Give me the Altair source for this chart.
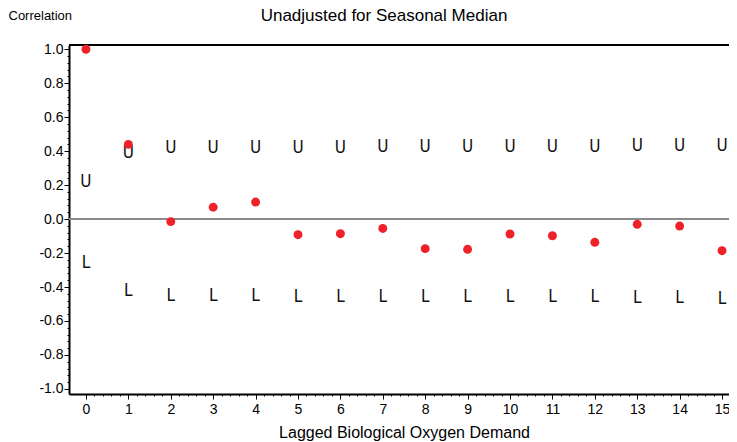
import altair as alt
import pandas as pd

# ---- data ----
lags = list(range(16))
acf = [1.00, 0.44, -0.015, 0.07, 0.10, -0.092, -0.086, -0.055, -0.174, -0.178,
       -0.088, -0.098, -0.137, -0.031, -0.041, -0.186]
upper = [0.218, 0.389, 0.416, 0.418, 0.418, 0.419, 0.420, 0.422, 0.423, 0.424,
         0.425, 0.426, 0.427, 0.428, 0.429, 0.430]
lower = [-0.258, -0.425, -0.455, -0.455, -0.455, -0.456, -0.456, -0.456, -0.457,
         -0.458, -0.458, -0.459, -0.460, -0.462, -0.462, -0.468]
zero_line = [0.0] * 16

x_tick_values = [round(i * 0.2, 1) for i in range(0, 77)]
y_tick_values = [round(-1.0 + i * 0.04, 2) for i in range(51)]

title_text = "Unadjusted for Seasonal Median"
x_title = "Lagged Biological Oxygen Demand"
y_title = "Correlation"

df = pd.DataFrame({"lag": lags, "acf": acf, "upper": upper, "lower": lower,
                   "zero": zero_line})

W, H = 670, 349
FONT = "Liberation Sans"
NARROW = "Liberation Sans Narrow, DejaVu Sans Condensed, Liberation Sans"
x_scale = alt.Scale(domain=[-0.4, 15.4], nice=False, zero=False)
y_scale = alt.Scale(domain=[-1.03, 1.025], nice=False, zero=False)

major_x = "abs(datum.value - round(datum.value)) < 0.001"
major_y = "abs(datum.value * 5 - round(datum.value * 5)) < 0.001"

x_axis = alt.Axis(
    values=x_tick_values,
    labelExpr=f"{major_x} ? format(datum.value, 'd') : ''",
    tickSize={"condition": {"test": major_x, "value": 5}, "value": 2},
    labelOverlap=False, labelBound=False, labelFlush=False,
    labelFont=FONT, labelFontSize=14, labelColor="black", labelPadding=3,
    domainColor="black", domainWidth=2, tickColor="black", tickWidth=1,
    grid=False, title=x_title, titleFont=FONT, titleFontSize=16,
    titleFontWeight="normal", titleColor="black",
    titleBaseline="alphabetic", titleAlign="center", titleX=335, titleY=43,
)
y_axis = alt.Axis(
    values=y_tick_values,
    labelExpr=f"{major_y} ? replace(format(datum.value, '.1f'), '\u2212', '-') : ''",
    tickSize={"condition": {"test": major_y, "value": 5}, "value": 2},
    labelOverlap=False, labelBound=False, labelFlush=False,
    labelFont=FONT, labelFontSize=14, labelColor="black", labelPadding=1,
    domainColor="black", domainWidth=2, tickColor="black", tickWidth=1,
    grid=False, title=y_title, titleFont=FONT, titleFontSize=13,
    titleFontWeight="normal", titleColor="black", titleAngle=0,
    titleAlign="left", titleBaseline="alphabetic", titleX=-61, titleY=-26,
)

X = alt.X("lag:Q", scale=x_scale, axis=x_axis)


def Y(field):
    return alt.Y(f"{field}:Q", scale=y_scale, axis=y_axis)


base = alt.Chart(df)

zero = base.mark_rule(color="#8a8a8a", strokeWidth=1.5).encode(y=Y("zero"))
top_frame = alt.Chart(alt.Data(values=[{"t": 1}])).mark_rule(
    color="black", strokeWidth=2).encode(
    y=alt.value(0), x=alt.value(0), x2=alt.value(W))

u_marks = base.mark_text(text="U", font=NARROW, fontSize=17,
                         baseline="middle", color="#111").encode(x=X, y=Y("upper"))
l_marks = base.mark_text(text="L", font=NARROW, fontSize=17,
                         baseline="middle", color="#111").encode(x=X, y=Y("lower"))
pts = base.mark_circle(size=80, color="#EE2228", opacity=1).encode(x=X, y=Y("acf"))

chart = alt.layer(zero, top_frame, u_marks, l_marks, pts).properties(
    width=W, height=H,
    title=alt.TitleParams(title_text, font=FONT, fontSize=17, fontWeight="normal",
                          color="black", anchor="middle", dx=-20, offset=-16),
    autosize=alt.AutoSizeParams(type="none"),
    padding={"left": 61, "top": 37, "right": -10, "bottom": 48},
).configure_view(strokeWidth=0, stroke="transparent")

chart.save("out.html", embed_options={"renderer": "svg", "actions": False})
